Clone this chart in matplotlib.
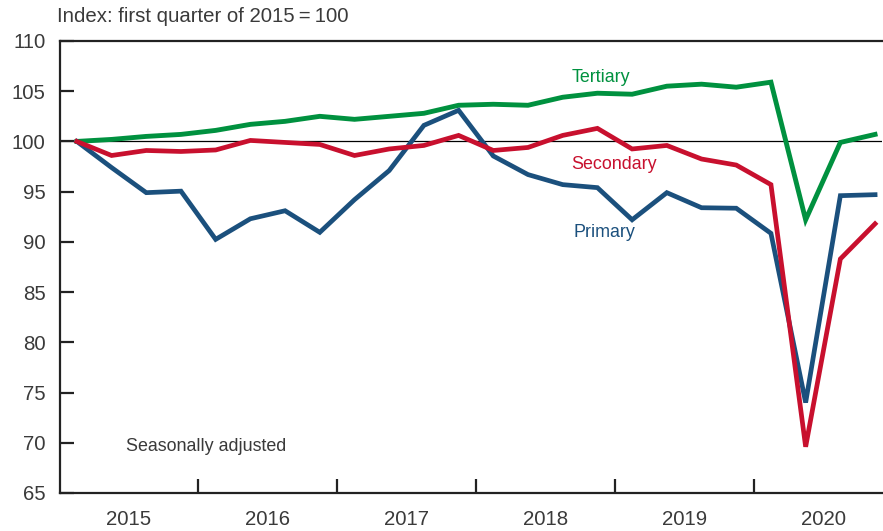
import matplotlib
matplotlib.use('Agg')
import matplotlib.pyplot as plt

years = ['2015', '2016', '2017', '2018', '2019', '2020']

tertiary = [100.0, 100.2, 100.5, 100.7, 101.1, 101.7, 102.0, 102.5, 102.2, 102.5, 102.8, 103.6,
            103.7, 103.6, 104.4, 104.8, 104.7, 105.5, 105.7, 105.4, 105.9, 92.2, 99.9, 100.7]
secondary = [100.0, 98.6, 99.1, 99.0, 99.15, 100.1, 99.9, 99.7, 98.6, 99.25, 99.6, 100.6,
             99.1, 99.4, 100.6, 101.3, 99.25, 99.6, 98.25, 97.65, 95.7, 69.6, 88.3, 91.8]
primary = [100.0, 97.4, 94.9, 95.05, 90.25, 92.3, 93.1, 90.95, 94.2, 97.1, 101.6, 103.1,
           98.55, 96.7, 95.7, 95.4, 92.2, 94.9, 93.4, 93.35, 90.85, 74.0, 94.6, 94.7]

green = '#00913f'
red = '#c8102e'
blue = '#1b507d'
txt = '#3a3a3a'

plt.rcParams['font.family'] = ['Liberation Sans', 'DejaVu Sans']

fig = plt.figure(figsize=(8.83, 5.31), dpi=100)
ax = fig.add_axes([59.5 / 883, 0.0716, 822.5 / 883, 0.8512])

x = range(len(primary))
ax.axhline(100, color='black', lw=0.9, zorder=1)
ax.plot(x, tertiary, color=green, lw=3.5, solid_joinstyle='miter', zorder=3)
ax.plot(x, primary, color=blue, lw=3.4, solid_joinstyle='miter', zorder=3)
ax.plot(x, secondary, color=red, lw=3.4, solid_joinstyle='miter', zorder=4)

ax.set_xlim(-0.5, 23.2)
ax.set_ylim(65, 110)

ax.set_yticks(range(65, 111, 5))
ax.tick_params(axis='y', direction='in', length=10, width=1.6, color='#222222',
               labelsize=14.7, labelcolor=txt, pad=10)

ax.set_xticks([3.5, 7.5, 11.5, 15.5, 19.5])
ax.set_xticklabels([])
ax.set_xticks([1.5 + 4 * i for i in range(6)], minor=True)
ax.set_xticklabels(years, minor=True)
ax.tick_params(axis='x', which='major', direction='in', length=10, width=1.6, color='#222222')
ax.tick_params(axis='x', which='minor', length=0, labelsize=14.7, labelcolor=txt, pad=12)

for s in ['left', 'bottom', 'top']:
    ax.spines[s].set_linewidth(1.6)
    ax.spines[s].set_color('#222222')
ax.spines['right'].set_visible(False)

ax.text(15.1, 106.4, 'Tertiary', color=green, fontsize=12.9, ha='center', va='center')
ax.text(15.47, 97.75, 'Secondary', color=red, fontsize=12.9, ha='center', va='center')
ax.text(15.2, 90.9, 'Primary', color=blue, fontsize=12.9, ha='center', va='center')
ax.text(1.42, 69.6, 'Seasonally adjusted', color=txt, fontsize=12.9, ha='left', va='center')

fig.text(57 / 883, 1 - 17 / 531, 'Index: first quarter of 2015\u2009=\u2009100', color=txt,
         fontsize=14.7, ha='left', va='center')

fig.savefig('out.png', dpi=100)
